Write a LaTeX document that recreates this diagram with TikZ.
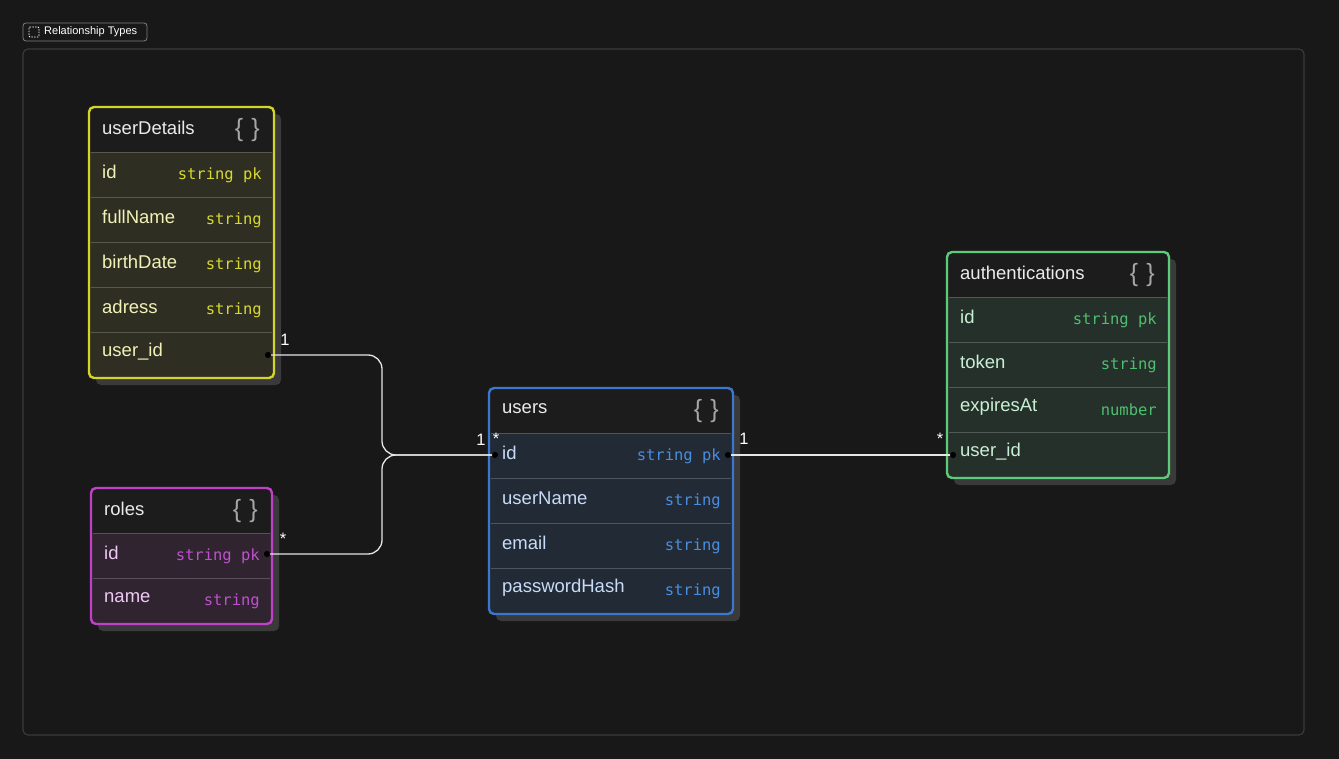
\documentclass[tikz,border=0pt]{standalone}
\usepackage{fontspec}
\setmainfont{Liberation Sans}
\setmonofont{DejaVu Sans Mono}
\begin{document}
\begin{tikzpicture}[x=1pt,y=-1pt,
  lbl/.style={text=white,font=\fontsize{16.5}{16.5}\selectfont,inner sep=0pt},
  wire/.style={draw=white!90!black,line width=1.3pt,rounded corners=14pt},
  enddot/.style={circle,fill=black,draw=black,minimum size=6pt,inner sep=0pt}]
\definecolor{bg}{HTML}{181818}
\definecolor{frame}{HTML}{3A3A3A}
\definecolor{hdr}{HTML}{1C1C1C}
\definecolor{ybord}{HTML}{D4D42A}\definecolor{yfill}{HTML}{2E2E22}\definecolor{ytype}{HTML}{D8D830}\definecolor{ytext}{HTML}{F2F2B8}
\definecolor{bbord}{HTML}{3A78D0}\definecolor{bfill}{HTML}{222A35}\definecolor{btype}{HTML}{4A8EE0}\definecolor{btext}{HTML}{C8DCF8}
\definecolor{gbord}{HTML}{5CCC7A}\definecolor{gfill}{HTML}{26302A}\definecolor{gtype}{HTML}{4CC070}\definecolor{gtext}{HTML}{C8F0D4}
\definecolor{pbord}{HTML}{C040C8}\definecolor{pfill}{HTML}{302430}\definecolor{ptype}{HTML}{C050D0}\definecolor{ptext}{HTML}{F0C8F4}
\fill[bg] (0,0) rectangle (1339,759);
\useasboundingbox (0,0) rectangle (1339,759);
\draw[frame,line width=1.2pt,rounded corners=5pt] (23,49) rectangle (1304,735);
\draw[gray,line width=0.8pt,rounded corners=3pt,fill=bg] (23,23) rectangle (147,41);
\draw[white,dash pattern=on 1.5pt off 1.2pt,line width=0.9pt,rounded corners=1pt] (29,27) rectangle (39,37);
\node[anchor=west,text=white,font=\fontsize{11}{11}\selectfont,inner sep=0pt] (title) at (44,32) {Relationship Types};
\newcommand{\ert}[7]{%
  \fill[frame,rounded corners=5pt] (#2+7,#3+7) rectangle ++(#4,{45*(1+\rowsN)+1});
  \begin{scope}
  \clip[rounded corners=5pt] (#2,#3) rectangle ++(#4,{45*(1+\rowsN)+1});
  \fill[hdr] (#2,#3) rectangle ++(#4,45);
  \fill[#6fill] (#2,#3+45) rectangle ++(#4,{45*\rowsN+1});
  \end{scope}
  \node[anchor=west,text=white!92!black,font=\fontsize{18.5}{18.5}\selectfont,inner sep=0pt] (#1h) at (#2+13,#3+21) {#5};
  \node[anchor=east,text=gray!70!white,font=\fontsize{25}{25}\selectfont,inner sep=0pt] (#1b) at (#2+#4-14,#3+23) {\{\,\,\}};
  \foreach \n/\t [count=\i] in {#7}{
    \draw[white!20!#6fill,line width=0.8pt] (#2+2,#3+45*\i) -- ++(#4-4,0);
    \node[anchor=west,text=#6text,font=\fontsize{18.5}{18.5}\selectfont,inner sep=0pt] (#1n\i) at (#2+13,{#3+45*\i+20}) {\n};
    \node[anchor=east,text=#6type,font=\ttfamily\fontsize{15.5}{15.5}\selectfont,inner sep=0pt] (#1t\i) at (#2+#4-12,{#3+45*\i+23}) {\t};
  }
  \draw[#6bord,line width=2.4pt,rounded corners=5pt] (#2,#3) rectangle ++(#4,{45*(1+\rowsN)+1});
}
\def\rowsN{5}
\ert{ud}{89}{107}{185}{userDetails}{y}{id/string pk,fullName/string,birthDate/string,adress/string,user\_id/{}}
\def\rowsN{2}
\ert{ro}{91}{488}{181}{roles}{p}{id/string pk,name/string}
\def\rowsN{4}
\ert{us}{489}{388}{244}{users}{b}{id/string pk,userName/string,email/string,passwordHash/string}
\def\rowsN{4}
\ert{au}{947}{252}{222}{authentications}{g}{id/string pk,token/string,expiresAt/number,user\_id/{}}
\node[enddot,minimum size=5pt] (d1) at (268,355) {};
\node[enddot,minimum size=5pt] (d2) at (267,554) {};
\node[enddot,minimum size=5pt] (d3) at (495,455) {};
\node[enddot,minimum size=5pt] (d4) at (728,455) {};
\node[enddot,minimum size=5pt] (d5) at (953,455) {};
\draw[wire] (d1.center) -- (382,355) -- (382,455) -- (d3.center);
\draw[wire] (d2.center) -- (382,554) -- (382,455) -- (d3.center);
\draw[wire,rounded corners=0pt] (d4.center) -- (d5.center);
\foreach \d in {d1,d2,d3,d4,d5} \fill[black] (\d) circle (3pt);
\node[lbl] (l1) at (285,340) {1};
\node[lbl] (l2) at (283,539) {*};
\node[lbl] (l3) at (481,440) {1};
\node[lbl] (l4) at (496,439) {*};
\node[lbl] (l5) at (744,439) {1};
\node[lbl] (l6) at (940,439) {*};
\end{tikzpicture}
\end{document}
